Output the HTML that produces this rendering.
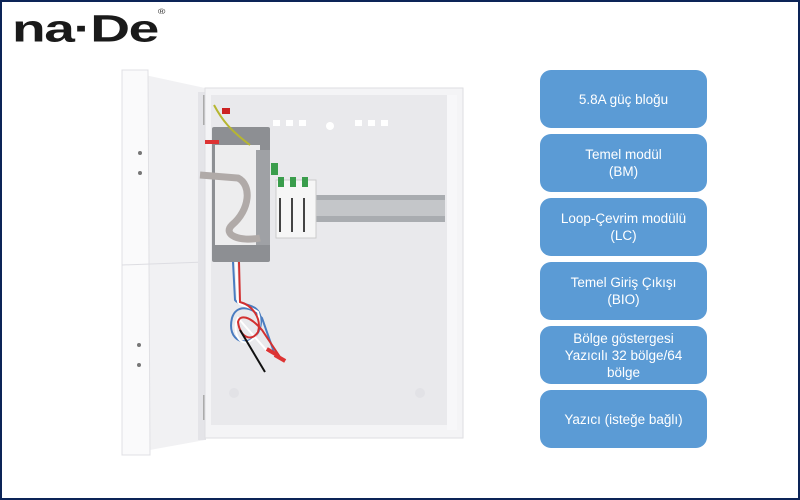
<!DOCTYPE html>
<html><head><meta charset="utf-8"><style>
html,body{margin:0;padding:0}
body{width:800px;height:500px;position:relative;overflow:hidden;background:#fff;font-family:"Liberation Sans",sans-serif}
.frame{position:absolute;left:0;top:0;width:796px;height:496px;border:2px solid #0c2457}
.logo{position:absolute;left:12px;top:5px;font-size:38px;line-height:44px;font-weight:900;color:#1a1a1a;letter-spacing:-1px;font-family:"Liberation Sans",sans-serif;transform:scaleX(1.45);transform-origin:left}
.logo sup{font-size:7px;font-weight:400;position:relative;top:-14px}
.box{position:absolute;left:540px;width:167px;height:58px;background:#5b9bd5;border-radius:11px;color:#fff;font-size:13.5px;line-height:17px;display:flex;align-items:center;justify-content:center;text-align:center}
</style></head><body>
<div class="frame"></div>
<div class="logo">na·De<sup>®</sup></div>
<svg style="position:absolute;left:0;top:0" width="800" height="500">
 <polygon points="122,70 205,88 205,440 122,455" fill="#f1f1f3"/>
 <polygon points="122,70 148,70 150,455 122,455" fill="#fafafb" stroke="#e0e0e4"/>
 <line x1="122" y1="265" x2="205" y2="262" stroke="#dddde2"/>
 <rect x="198" y="92" width="8" height="348" fill="#e4e4e8"/>
 <circle cx="140" cy="153" r="2" fill="#777"/><circle cx="140" cy="173" r="2" fill="#777"/>
 <circle cx="139" cy="345" r="2" fill="#777"/><circle cx="139" cy="365" r="2" fill="#777"/>
 <rect x="203" y="95" width="6" height="30" fill="#aaa"/><rect x="203" y="395" width="6" height="25" fill="#aaa"/>
 <rect x="205" y="88" width="258" height="350" fill="#f4f4f6" stroke="#dedee2"/>
 <rect x="211" y="95" width="240" height="330" fill="#e9e9ec"/>
 <rect x="447" y="95" width="10" height="335" fill="#f7f7f9"/>
 <g fill="#fff"><rect x="273" y="120" width="7" height="6"/><rect x="286" y="120" width="7" height="6"/><rect x="299" y="120" width="7" height="6"/><rect x="355" y="120" width="7" height="6"/><rect x="368" y="120" width="7" height="6"/><rect x="381" y="120" width="7" height="6"/></g>
 <circle cx="330" cy="126" r="4" fill="#fff"/>
 <circle cx="234" cy="393" r="5" fill="#e2e2e6"/><circle cx="420" cy="393" r="5" fill="#e2e2e6"/>
 <rect x="300" y="195" width="145" height="27" fill="#a9acb0"/>
 <rect x="300" y="200" width="145" height="16" fill="#c4c6c9"/>
 <rect x="212" y="127" width="58" height="135" fill="#8d8f93" rx="2"/>
 <rect x="215" y="145" width="45" height="100" fill="#ededee"/>
 <rect x="256" y="150" width="14" height="95" fill="#9fa1a5"/>
 <path d="M200,175 L238,178 C252,185 250,210 232,225 C222,235 240,242 260,238" stroke="#b0aaa8" stroke-width="7" fill="none"/>
 <path d="M214,105 C222,120 230,130 250,145" stroke="#b6b631" stroke-width="2" fill="none"/>
 <rect x="205" y="140" width="14" height="4" fill="#d33"/>
 <rect x="222" y="108" width="8" height="6" fill="#c22"/>
 <rect x="276" y="180" width="40" height="58" fill="#f6f6f6" stroke="#ccc"/>
 <rect x="271" y="163" width="7" height="12" fill="#3a9d4c"/>
 <rect x="278" y="177" width="6" height="10" fill="#3a9d4c"/><rect x="290" y="177" width="6" height="10" fill="#3a9d4c"/><rect x="302" y="177" width="6" height="10" fill="#3a9d4c"/>
 <g stroke="#444" stroke-width="2"><line x1="280" y1="198" x2="280" y2="232"/><line x1="292" y1="198" x2="292" y2="232"/><line x1="304" y1="198" x2="304" y2="232"/></g>
 <g fill="none" stroke-width="2">
  <path d="M233,262 L235,300 C238,305 245,302 255,308 C265,315 262,335 250,340 C238,345 228,335 232,318 C236,305 250,305 262,318 L275,355" stroke="#4a7cc0"/>
  <path d="M236,262 L238,302 C240,306 250,306 258,312 C262,325 258,338 248,342 C238,345 232,330 238,318 L268,352" stroke="#fff"/>
  <path d="M239,262 L240,302 C252,305 262,318 258,332 C252,342 240,338 238,322 C240,314 250,316 262,330 L280,357" stroke="#d23030"/>
  <path d="M240,330 L265,372" stroke="#111"/>
 </g>
 <rect x="266" y="350" width="12" height="4" fill="#d33" transform="rotate(30 272 352)"/>
 <rect x="274" y="356" width="12" height="4" fill="#d33" transform="rotate(30 280 358)"/>
</svg>
<div class="box" style="top:70px">5.8A güç bloğu</div>
<div class="box" style="top:134px">Temel modül<br>(BM)</div>
<div class="box" style="top:198px">Loop-Çevrim modülü<br>(LC)</div>
<div class="box" style="top:262px">Temel Giriş Çıkışı<br>(BIO)</div>
<div class="box" style="top:326px">Bölge göstergesi<br>Yazıcılı 32 bölge/64<br>bölge</div>
<div class="box" style="top:390px">Yazıcı (isteğe bağlı)</div>
</body></html>
